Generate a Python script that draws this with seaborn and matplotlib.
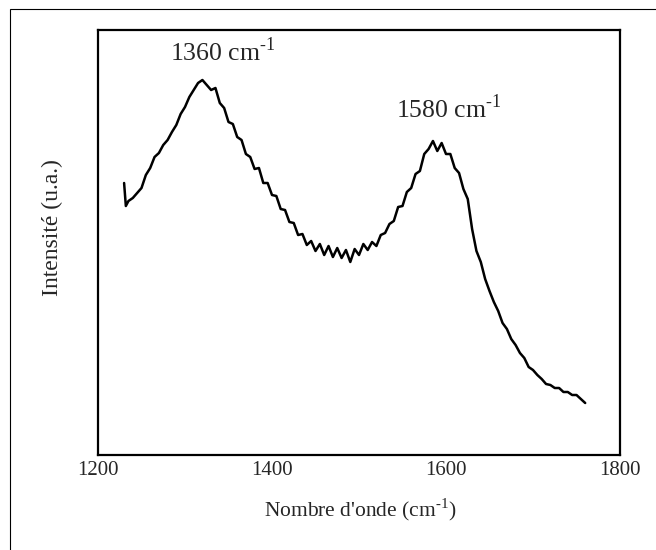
import numpy as np
import pandas as pd
import matplotlib
matplotlib.use("Agg")
import matplotlib.pyplot as plt
import seaborn as sns
from matplotlib.patches import Rectangle

# Spectre Raman (unités arbitraires)
nombre_onde = [1230, 1232, 1235, 1240, 1245, 1250, 1255, 1260, 1265, 1270, 1275, 1280,
               1285, 1290, 1295, 1300, 1305, 1310, 1315, 1320, 1325, 1330, 1335, 1340,
               1345, 1350, 1355, 1360, 1365, 1370, 1375, 1380, 1385, 1390, 1395, 1400,
               1405, 1410, 1415, 1420, 1425, 1430, 1435, 1440, 1445, 1450, 1455, 1460,
               1465, 1470, 1475, 1480, 1485, 1490, 1495, 1500, 1505, 1510, 1515, 1520,
               1525, 1530, 1535, 1540, 1545, 1550, 1555, 1560, 1565, 1570, 1575, 1580,
               1585, 1590, 1595, 1600, 1605, 1610, 1615, 1620, 1625, 1630, 1635, 1640,
               1645, 1650, 1655, 1660, 1665, 1670, 1675, 1680, 1685, 1690, 1695, 1700,
               1705, 1710, 1715, 1720, 1725, 1730, 1735, 1740, 1745, 1750, 1755, 1760]
intensite = [317, 294, 299, 302, 307, 312, 325, 332, 343, 347, 355, 360,
             368, 375, 386, 393, 403, 410, 417, 420, 415, 410, 412, 397,
             392, 378, 376, 363, 360, 346, 343, 331, 332, 317, 317, 305,
             304, 291, 290, 278, 277, 265, 266, 255, 259, 249, 256, 245,
             254, 243, 252, 242, 250, 238, 251, 245, 256, 250, 258, 254,
             265, 267, 276, 279, 293, 294, 308, 312, 326, 329, 346, 351,
             359, 349, 357, 346, 346, 332, 327, 311, 301, 271, 249, 238,
             221, 209, 198, 189, 177, 171, 161, 155, 147, 142, 133, 130,
             125, 121, 116, 115, 112, 112, 108, 108, 105, 105, 101, 97]

pics = [1360, 1580]
pics_x = [1344, 1603]
pics_y = [439, 382]

df = pd.DataFrame({"x": nombre_onde, "y": intensite})

sns.set_style("white")
plt.rcParams['font.family'] = ['Liberation Serif', 'DejaVu Serif']
plt.rcParams['mathtext.fontset'] = 'custom'
plt.rcParams['mathtext.rm'] = 'Liberation Serif'

fig = plt.figure(figsize=(6.56, 5.5), dpi=100)
ax = fig.add_axes([98/656, 1 - 455/550, (620 - 98)/656, (455 - 30)/550])

sns.lineplot(data=df, x="x", y="y", ax=ax, color="black", linewidth=1.8)

for p, px, py in zip(pics, pics_x, pics_y):
    ax.text(px, py, f"{p} cm$^{{\\text{{-1}}}}$", ha="center", va="baseline", fontsize=18.5)

ax.set_xlim(1200, 1800)
ax.set_ylim(45, 470)
ax.set_xticks([1200, 1400, 1600, 1800])
ax.set_yticks([])
ax.tick_params(axis="x", labelsize=15, length=0, pad=4)
ax.set_xlabel("")
ax.set_ylabel("")
for s in ax.spines.values():
    s.set_color("black")
    s.set_linewidth(1.6)

fig.text(360/656, 1 - 510/550, "Nombre d'onde (cm$^{\\text{-1}}$)", fontsize=15.5,
         ha="center", va="center")
fig.text(52/656, 1 - 228/550, "Intensité (u.a.)", fontsize=17, rotation=90,
         ha="center", va="center")

# cadre extérieur
fig.add_artist(Rectangle((10/656, -0.2), 1.5, 1.2 - 9/550, transform=fig.transFigure,
                         fill=False, edgecolor="black", linewidth=0.8))

fig.savefig("out.png", dpi=100)
